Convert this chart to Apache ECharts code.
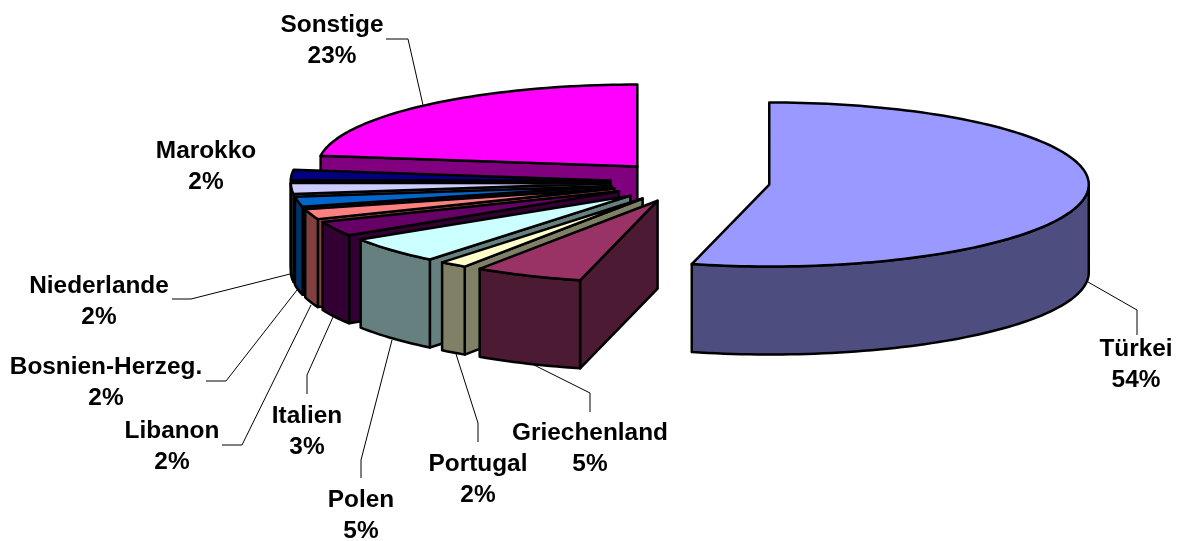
<!DOCTYPE html>
<html>
<head>
<meta charset="utf-8">
<style>html,body{margin:0;padding:0;background:#fff}#c{width:1181px;height:541px}</style>
<script src="https://cdn.jsdelivr.net/npm/echarts@6/dist/echarts.min.js"></script>
</head>
<body>
<div id="c"></div>
<script>
const categories = ['Türkei','Griechenland','Portugal','Polen','Italien','Libanon','Bosnien-Herzeg.','Niederlande','Marokko','Sonstige'];
const shares = [53.9, 5.5, 1.4, 5.2, 2.9, 2.0, 2.0, 2.2, 2.0, 22.9];
const percentLabels = ['54%','5%','2%','5%','3%','2%','2%','2%','2%','23%'];
const topColors = ['#9999FF','#993366','#FFFFCC','#CCFFFF','#660066','#FF8080','#0066CC','#CCCCFF','#000080','#FF00FF'];
const sideColors = ['#4D4D80','#4D1A33','#808066','#668080','#330033','#804040','#003366','#666680','#000040','#800080'];
const labelCentres = [[1136,349.5],[590,433.5],[478,464.5],[361,500.5],[307,416.5],[172,431.5],[106,367.5],[99,286.5],[206,151.5],[332,25.5]];
const leaderLines = [
  [[1088,282],[1137,310],[1137,335]],
  [[530,363],[590,393],[590,412]],
  [[456,354],[478,423],[478,442]],
  [[392,340],[361,460],[361,478]],
  [[333,317],[307,375],[307,394]],
  [[311,305],[242,445],[222,445]],
  [[297,290],[226,381],[206,381]],
  [[290,274],[191,299],[172,299]],
  null,
  [[423,105],[408,39],[386,39]]
];
const pie = {cx:690, cy:182, rx:319.5, ry:82, depth:88, explode:0.25};
const total = shares.reduce((a,b)=>a+b,0);
const rad = d => d*Math.PI/180;
const chart = echarts.init(document.getElementById('c'));

function renderSlice(params, api){
  const i = params.dataIndex;
  let before = 0;
  for(let k=0;k<i;k++) before += shares[k];
  const a0 = before/total*360, a1 = (before+api.value(0))/total*360, m=(a0+a1)/2;
  const ax = pie.cx + pie.explode*pie.rx*Math.sin(rad(m));
  const ay = pie.cy - pie.explode*pie.ry*Math.cos(rad(m));
  const rim = (a,d)=>[ax+pie.rx*Math.sin(rad(a)), ay-pie.ry*Math.cos(rad(a))+(d||0)];
  const arc = (s,e,d)=>{const n=Math.max(2,Math.ceil((e-s)/1.5));const p=[];for(let j=0;j<=n;j++)p.push(rim(s+(e-s)*j/n,d));return p;};
  const z = Math.round(ay*10);
  const edge = {stroke:'#000',lineWidth:2.5,lineJoin:'round'};
  const children = [];
  if(Math.sin(rad(a0))<-1e-6){
    children.push({type:'polygon',z2:z,shape:{points:[[ax,ay],rim(a0),rim(a0,pie.depth),[ax,ay+pie.depth]]},style:{fill:sideColors[i],...edge}});
  }
  const s=Math.max(a0,90), e=Math.min(a1,270);
  if(e>s){
    children.push({type:'polygon',z2:z+1,shape:{points:arc(s,e,0).concat(arc(s,e,pie.depth).reverse())},style:{fill:sideColors[i],...edge}});
  }
  children.push({type:'polygon',z2:z+2,shape:{points:[[ax,ay]].concat(arc(a0,a1,0))},style:{fill:topColors[i],...edge}});
  if(leaderLines[i]){
    children.push({type:'polyline',z2:9000,shape:{points:leaderLines[i]},style:{fill:null,stroke:'#000',lineWidth:1}});
  }
  const font='bold 24.4px "Liberation Sans", Arial, sans-serif';
  const c=labelCentres[i];
  children.push({type:'text',z2:9001,style:{text:categories[i],x:c[0],y:c[1],font,fill:'#000',align:'center',verticalAlign:'middle'}});
  children.push({type:'text',z2:9001,style:{text:percentLabels[i],x:c[0],y:c[1]+30.5,font,fill:'#000',align:'center',verticalAlign:'middle'}});
  return {type:'group',children};
}

chart.setOption({
  animation:false,
  backgroundColor:'#fff',
  series:[{type:'custom',coordinateSystem:'none',renderItem:renderSlice,
    data:shares.map((v,i)=>({name:categories[i],value:[v]})),silent:true}]
});
</script>
</body>
</html>
